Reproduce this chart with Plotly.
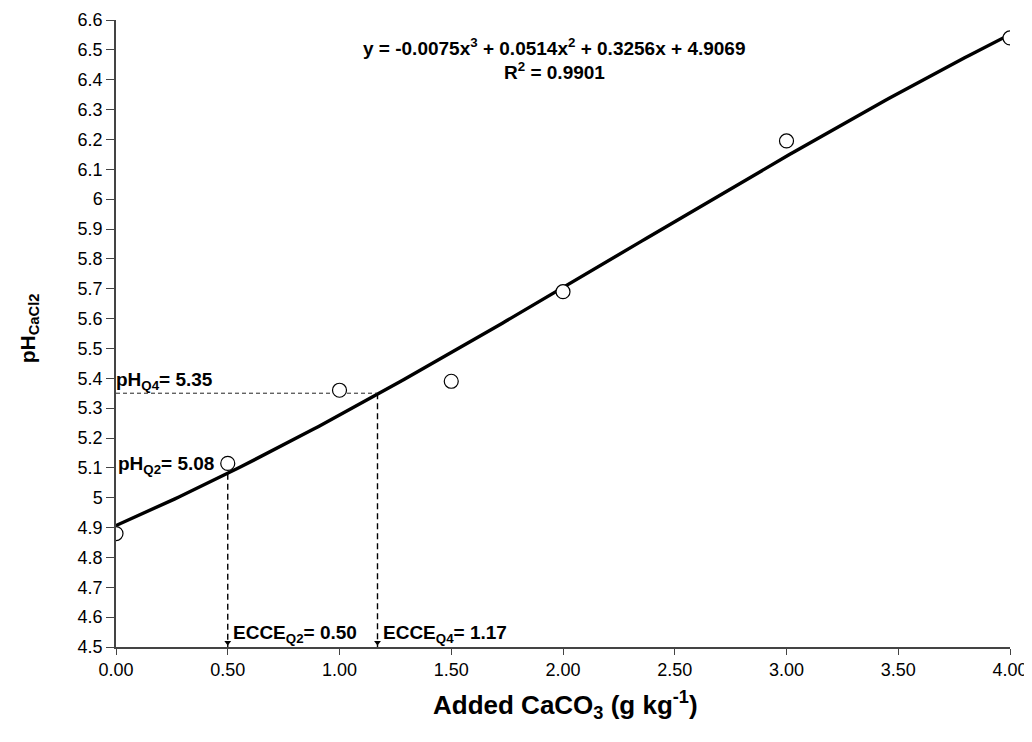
import numpy as np
import plotly.graph_objects as go

# Observed data
caco3 = [0.0, 0.5, 1.0, 1.5, 2.0, 3.0, 4.0]
ph = [4.88, 5.115, 5.36, 5.39, 5.69, 6.195, 6.54]

# Trendline coefficients (as printed on chart): a3, a2, a1, a0
coef = [-0.0075, 0.0514, 0.3256, 4.9069]

# Quartile reference values
ecce = [0.50, 1.17]
ph_q = [5.08, 5.35]

xticks = [0, 0.5, 1, 1.5, 2, 2.5, 3, 3.5, 4]
yticks = [round(4.5 + 0.1 * i, 1) for i in range(22)]

FONT = "Liberation Sans, Arial, sans-serif"
TXT = dict(family=FONT, color="black", size=19)

fig = go.Figure()

xs = np.linspace(0, 4, 200)
ys = np.polyval(coef, xs)
fig.add_trace(go.Scatter(x=xs, y=ys, mode="lines",
                         line=dict(color="black", width=3.4), hoverinfo="skip"))

# Dashed guide lines
fig.add_trace(go.Scatter(x=[0, ecce[1]], y=[ph_q[1], ph_q[1]],
                         mode="lines", line=dict(color="#222", width=1, dash="4px,3px")))
fig.add_trace(go.Scatter(x=[ecce[1], ecce[1]], y=[ph_q[1], 4.5],
                         mode="lines", line=dict(color="black", width=1.4, dash="6px,4px")))
fig.add_trace(go.Scatter(x=[ecce[0], ecce[0]], y=[ph_q[0], 4.5],
                         mode="lines", line=dict(color="black", width=1.4, dash="6px,4px")))
fig.add_trace(go.Scatter(x=ecce, y=[4.515, 4.515], mode="markers",
                         marker=dict(symbol="triangle-down", size=6, color="black")))

fig.add_trace(go.Scatter(x=caco3, y=ph, mode="markers",
                         marker=dict(symbol="circle", size=14, color="white",
                                     line=dict(color="black", width=1.2))))

ann = []
ann.append(dict(x=0.491, y=6.511, xref="paper", yref="y", xanchor="center", yanchor="middle",
                text="<b>y = -0.0075x<sup>3</sup> + 0.0514x<sup>2</sup> + 0.3256x + 4.9069</b>",
                showarrow=False, font=TXT))
ann.append(dict(x=0.491, y=6.428, xref="paper", yref="y", xanchor="center", yanchor="middle",
                text="<b>R<sup>2</sup> = 0.9901</b>",
                showarrow=False, font=TXT))
ann.append(dict(x=0.0, y=5.39, xref="x", yref="y", xanchor="left", yanchor="middle",
                text="<b>pH<sub>Q4</sub>= %.2f</b>" % ph_q[1],
                showarrow=False, font=TXT, xshift=-2))
ann.append(dict(x=0.0, y=5.11, xref="x", yref="y", xanchor="left", yanchor="middle",
                text="<b>pH<sub>Q2</sub>= %.2f</b>" % ph_q[0],
                showarrow=False, font=TXT, xshift=0))
ann.append(dict(x=ecce[0], y=4.545, xref="x", yref="y", xanchor="left", yanchor="middle",
                text="<b>ECCE<sub>Q2</sub>= %.2f</b>" % ecce[0],
                showarrow=False, font=TXT, xshift=3))
ann.append(dict(x=ecce[1], y=4.545, xref="x", yref="y", xanchor="left", yanchor="middle",
                text="<b>ECCE<sub>Q4</sub>= %.2f</b>" % ecce[1],
                showarrow=False, font=TXT, xshift=3))
# Axis titles
ann.append(dict(x=0.503, y=-0.0925, xref="paper", yref="paper", xanchor="center", yanchor="middle",
                text="<b>Added CaCO<sub>3</sub> (g kg<sup>-1</sup>)</b>",
                showarrow=False, font=dict(family=FONT, color="black", size=26)))
ann.append(dict(x=-0.098, y=0.509, xref="paper", yref="paper", xanchor="center", yanchor="middle",
                text="<b>pH<sub>CaCl2</sub></b>", textangle=-90,
                showarrow=False, font=dict(family=FONT, color="black", size=21)))

# Page body has an 8px margin: size the figure to fit the window and offset margins
fig.update_layout(
    width=1024, height=734,
    margin=dict(l=108, r=22, t=12, b=95, autoexpand=False),
    plot_bgcolor="white", paper_bgcolor="white",
    showlegend=False,
    font=TXT,
    annotations=ann,
    xaxis=dict(range=[0, 4], tickvals=xticks, ticktext=["%.2f" % v for v in xticks],
               showgrid=False, zeroline=False, showline=True, linecolor="#444", linewidth=1.5,
               ticks="outside", ticklen=6, tickcolor="#444", automargin=False,
               tickfont=dict(size=18, family=FONT)),
    yaxis=dict(range=[4.5, 6.6], tickvals=yticks, ticktext=[("%g" % v) for v in yticks],
               showgrid=False, zeroline=False, showline=True, linecolor="#444", linewidth=1.5,
               ticks="outside", ticklen=8, tickcolor="#444", automargin=False,
               tickfont=dict(size=18, family=FONT)),
)

fig.write_html("out.html")
